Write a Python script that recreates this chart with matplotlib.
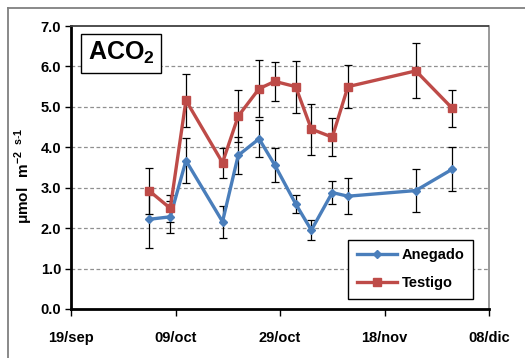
import matplotlib
matplotlib.use("Agg")
import matplotlib.pyplot as plt
from matplotlib.lines import Line2D
import datetime as dt

plt.rcParams['font.family'] = ['Liberation Sans', 'DejaVu Sans']
plt.rcParams['mathtext.fontset'] = 'custom'
plt.rcParams['mathtext.rm'] = 'Liberation Sans'
plt.rcParams['mathtext.bf'] = 'Liberation Sans:bold'

# ---- data ----
dates = ["2008-10-04", "2008-10-08", "2008-10-11", "2008-10-18", "2008-10-21",
         "2008-10-25", "2008-10-28", "2008-11-01", "2008-11-04", "2008-11-08",
         "2008-11-11", "2008-11-24", "2008-12-01"]
anegado = [2.22, 2.28, 3.67, 2.16, 3.80, 4.21, 3.56, 2.60, 1.95, 2.88, 2.79, 2.93, 3.46]
anegado_err = [0.72, 0.39, 0.56, 0.40, 0.45, 0.46, 0.43, 0.22, 0.25, 0.29, 0.44, 0.53, 0.54]
testigo = [2.92, 2.49, 5.16, 3.62, 4.77, 5.45, 5.63, 5.50, 4.45, 4.25, 5.50, 5.89, 4.96]
testigo_err = [0.57, 0.34, 0.65, 0.37, 0.64, 0.71, 0.49, 0.64, 0.63, 0.47, 0.53, 0.68, 0.46]
xtick_dates = ["2008-09-19", "2008-10-09", "2008-10-29", "2008-11-18", "2008-12-08"]
xtick_labels = ["19/sep", "09/oct", "29/oct", "18/nov", "08/dic"]
yticks = [0.0, 1.0, 2.0, 3.0, 4.0, 5.0, 6.0, 7.0]
series_names = ["Anegado", "Testigo"]

to_d = lambda s: dt.datetime.strptime(s, "%Y-%m-%d")
x = [to_d(s) for s in dates]
xt = [to_d(s) for s in xtick_dates]

fig = plt.figure(figsize=(5.25, 3.58), dpi=100)
ax = fig.add_axes([71/525, 1-309/358, (489-71)/525, (309-26)/358])

blue = '#4A7EBB'
red = '#BE4B48'

ax.errorbar(x, anegado, yerr=anegado_err, fmt='none', ecolor='black',
            elinewidth=0.9, capsize=3, capthick=0.9, zorder=3)
ax.errorbar(x, testigo, yerr=testigo_err, fmt='none', ecolor='black',
            elinewidth=0.9, capsize=3, capthick=0.9, zorder=3)
ax.plot(x, anegado, color=blue, lw=2.4, marker='D', ms=4, zorder=4,
        label=series_names[0])
ax.plot(x, testigo, color=red, lw=2.4, marker='s', ms=5.5, zorder=4,
        label=series_names[1])

ax.set_ylim(0, 7)
ax.set_yticks(yticks)
ax.set_yticklabels([f"{v:.1f}" for v in yticks], fontsize=10.5, fontweight='bold')
ax.set_xlim(xt[0], xt[-1])
ax.set_xticks(xt)
ax.set_xticklabels(xtick_labels, fontsize=10.5, fontweight='bold')
ax.tick_params(axis='x', direction='out', length=5, width=1, pad=11)
ax.tick_params(axis='y', direction='out', length=4, width=1, pad=3)

for v in yticks[1:-1]:
    ax.axhline(v, color='#909090', lw=0.9, ls=(0, (3, 2)), zorder=1)

ax.spines['left'].set_linewidth(2)
ax.spines['bottom'].set_linewidth(2)
ax.spines['top'].set_color('#404040')
ax.spines['top'].set_linestyle((0, (3, 1)))
ax.spines['top'].set_linewidth(1.3)
ax.spines['right'].set_color('#888888')
ax.spines['right'].set_linewidth(1.2)

leg = ax.legend(loc='lower right', bbox_to_anchor=(0.98, 0.01),
                prop={'weight': 'bold', 'size': 10.5}, frameon=True,
                fancybox=False, edgecolor='black', framealpha=1, handlelength=2.8,
                borderpad=0.6, labelspacing=0.95, handletextpad=0.3)
leg.get_frame().set_linewidth(1.0)

ax.text(0.04, 0.95, r'ACO$_\mathbf{2}$', transform=ax.transAxes, fontsize=18,
        fontweight='bold', ha='left', va='top',
        bbox=dict(boxstyle='square,pad=0.25', fc='white', ec='black', lw=1.0))

fig.text(0.046, 0.51, r'$\mathbf{\mu mol\ \ m}^{\mathbf{-2\ \ s\text{-}1}}$',
         rotation=90, fontsize=11, ha='center', va='center')

# outer chart frame
fig.add_artist(Line2D([8/525, 8/525], [0, 1-7.5/358], transform=fig.transFigure,
                      color='#808080', lw=1.3))
fig.add_artist(Line2D([8/525, 1], [1-7.5/358, 1-7.5/358], transform=fig.transFigure,
                      color='#808080', lw=1.3))

fig.savefig('out.png', dpi=100)
